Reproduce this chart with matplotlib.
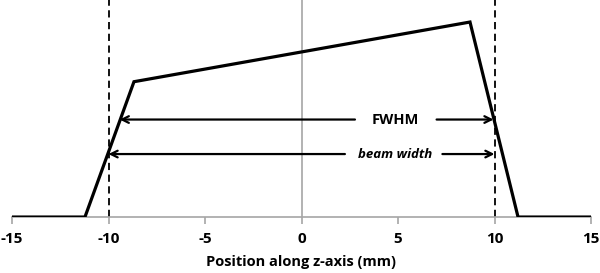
import matplotlib
matplotlib.use("Agg")
import matplotlib.pyplot as plt

# profile data
pos = [-15, -11.22, -8.68, 8.73, 11.22, 15]
dose = [0.0, 0.0, 0.694, 1.0, 0.0, 0.0]
beam_edges = [-10, 10]
half_max = 0.5
beam_level = 0.323
fwhm_edges = [-9.42, 9.95]
xticks = [-15, -10, -5, 0, 5, 10, 15]

plt.rcParams['font.family'] = ['Open Sans', 'DejaVu Sans']

fig = plt.figure(figsize=(6.0, 2.73), dpi=100)
ax = fig.add_axes([0.02, 0.205, 0.965, 0.795])

ax.axvline(0, color='#a6a6a6', lw=1.2, zorder=1)
for e in beam_edges:
    ax.axvline(e, color='black', lw=1.3, ls=(0, (4, 2.5)), zorder=2)

ax.plot(pos, dose, color='black', lw=2.3, zorder=3, solid_joinstyle='miter')

arrow_kw = dict(arrowstyle='->', color='black', lw=1.6, mutation_scale=12, shrinkA=0, shrinkB=0)
# FWHM arrow
ax.annotate('', xy=(fwhm_edges[0], half_max), xytext=(2.77, half_max), arrowprops=arrow_kw)
ax.annotate('', xy=(fwhm_edges[1], half_max), xytext=(7.0, half_max), arrowprops=arrow_kw)
ax.text(4.85, half_max, 'FWHM', ha='center', va='center', fontsize=10.5, fontweight='bold')
# beam width arrow
ax.annotate('', xy=(beam_edges[0], beam_level), xytext=(2.25, beam_level), arrowprops=arrow_kw)
ax.annotate('', xy=(beam_edges[1], beam_level), xytext=(7.3, beam_level), arrowprops=arrow_kw)
ax.text(4.85, beam_level, 'beam width', ha='center', va='center', fontsize=9.5,
        fontweight='bold', fontstyle='italic')

ax.set_xlim(-15, 15)
ax.set_ylim(0, 1.113)
ax.set_xticks(xticks)
ax.set_xticklabels([str(t) for t in xticks], fontsize=11, fontweight='bold')
ax.set_yticks([])
for s in ['left', 'right', 'top']:
    ax.spines[s].set_visible(False)
ax.spines['bottom'].set_color('#a6a6a6')
ax.spines['bottom'].set_linewidth(1.2)
ax.tick_params(axis='x', direction='out', length=5, width=1.2, color='#a6a6a6', pad=6)
ax.set_xlabel('Position along z-axis (mm)', fontsize=10.5, fontweight='bold', labelpad=6)

fig.savefig('out.png', dpi=100)
